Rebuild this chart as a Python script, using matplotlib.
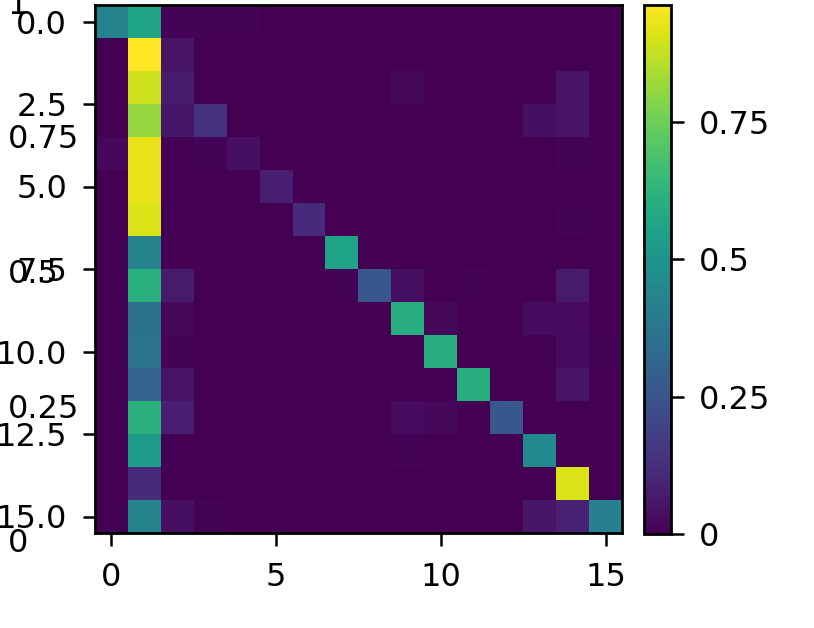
import numpy as np
import matplotlib
matplotlib.use("Agg")
import matplotlib.pyplot as plt

# 16x16 matrix values (rows = y index, cols = x index)
values = [
    [0.43, 0.57, 0.01, 0.01, 0.01, 0.00, 0.00, 0.00, 0.00, 0.00, 0.00, 0.00, 0.00, 0.00, 0.00, 0.00],
    [0.00, 0.96, 0.05, 0.00, 0.00, 0.00, 0.00, 0.00, 0.00, 0.00, 0.00, 0.00, 0.00, 0.00, 0.00, 0.00],
    [0.00, 0.89, 0.07, 0.00, 0.00, 0.00, 0.00, 0.00, 0.00, 0.02, 0.00, 0.00, 0.00, 0.00, 0.05, 0.00],
    [0.00, 0.81, 0.06, 0.14, 0.00, 0.00, 0.00, 0.00, 0.00, 0.00, 0.00, 0.00, 0.00, 0.04, 0.05, 0.00],
    [0.02, 0.93, 0.00, 0.01, 0.04, 0.00, 0.00, 0.00, 0.00, 0.00, 0.00, 0.00, 0.00, 0.00, 0.01, 0.00],
    [0.00, 0.93, 0.00, 0.00, 0.00, 0.08, 0.00, 0.00, 0.00, 0.00, 0.00, 0.00, 0.00, 0.00, 0.00, 0.00],
    [0.00, 0.91, 0.00, 0.00, 0.00, 0.00, 0.115, 0.00, 0.00, 0.00, 0.00, 0.00, 0.00, 0.00, 0.01, 0.00],
    [0.00, 0.43, 0.00, 0.00, 0.00, 0.00, 0.00, 0.56, 0.00, 0.00, 0.00, 0.00, 0.00, 0.00, 0.00, 0.00],
    [0.00, 0.61, 0.07, 0.00, 0.00, 0.00, 0.00, 0.01, 0.26, 0.04, 0.00, 0.01, 0.00, 0.00, 0.07, 0.00],
    [0.00, 0.36, 0.02, 0.00, 0.00, 0.00, 0.00, 0.00, 0.00, 0.60, 0.02, 0.00, 0.00, 0.03, 0.03, 0.00],
    [0.00, 0.37, 0.01, 0.00, 0.00, 0.00, 0.00, 0.00, 0.00, 0.00, 0.60, 0.00, 0.00, 0.00, 0.03, 0.01],
    [0.00, 0.31, 0.05, 0.00, 0.00, 0.00, 0.00, 0.00, 0.00, 0.00, 0.00, 0.60, 0.00, 0.00, 0.05, 0.00],
    [0.00, 0.62, 0.08, 0.00, 0.00, 0.00, 0.00, 0.00, 0.00, 0.03, 0.02, 0.00, 0.26, 0.00, 0.00, 0.00],
    [0.00, 0.53, 0.00, 0.00, 0.00, 0.00, 0.00, 0.00, 0.00, 0.01, 0.00, 0.00, 0.00, 0.46, 0.00, 0.00],
    [0.00, 0.115, 0.00, 0.00, 0.00, 0.00, 0.00, 0.00, 0.00, 0.00, 0.00, 0.00, 0.00, 0.00, 0.91, 0.00],
    [0.00, 0.43, 0.04, 0.01, 0.00, 0.00, 0.00, 0.00, 0.00, 0.00, 0.00, 0.00, 0.00, 0.06, 0.09, 0.42],
]

x_ticks = [0, 5, 10, 15]
y_ticks = [0.0, 2.5, 5.0, 7.5, 10.0, 12.5, 15.0]
cbar_ticks = [0, 0.25, 0.5, 0.75]
cbar_labels = ["0", "0.25", "0.5", "0.75"]
overlay_ticks = [0, 0.25, 0.5, 0.75, 1]
overlay_labels = ["0", "0.25", "0.5", "0.75", "1"]

plt.rcParams["font.family"] = ["DejaVu Sans"]
plt.rcParams["font.size"] = 11.5
plt.rcParams["axes.linewidth"] = 1.0
plt.rcParams["xtick.major.size"] = 4.5
plt.rcParams["ytick.major.size"] = 4.5
plt.rcParams["xtick.major.width"] = 0.9
plt.rcParams["ytick.major.width"] = 0.9
plt.rcParams["xtick.major.pad"] = 6
plt.rcParams["ytick.major.pad"] = 5.5

W, H = 814, 628
fig = plt.figure(figsize=(W / 200, H / 200), dpi=200)

def frac(x0, y0, x1, y1):
    return [x0 / W, 1 - y1 / H, (x1 - x0) / W, (y1 - y0) / H]

# overlay axis with stray labels on the left
ax2 = fig.add_axes(frac(2, 2, 6, 540))
ax2.set_ylim(0, 1)
ax2.patch.set_alpha(0)
for s in ax2.spines.values():
    s.set_visible(False)
ax2.set_xticks([])
ax2.yaxis.tick_right()
ax2.set_yticks(overlay_ticks)
ax2.set_yticklabels(overlay_labels)
ax2.tick_params(axis="y", length=0, pad=0.5)

ax = fig.add_axes(frac(95, 5, 622, 533))
data = np.array(values)
im = ax.imshow(data, cmap="viridis", vmin=0, vmax=0.963, interpolation="nearest", aspect="auto")
ax.set_xticks(x_ticks)
ax.set_xticklabels([str(v) for v in x_ticks])
ax.set_yticks(y_ticks)
ax.set_yticklabels([f"{v:.1f}" for v in y_ticks])

cax = fig.add_axes(frac(644, 5, 671, 534))
cb = fig.colorbar(im, cax=cax, ticks=cbar_ticks)
cb.ax.set_yticklabels(cbar_labels)
cb.outline.set_linewidth(1.0)

fig.savefig("out.png", dpi=200)
